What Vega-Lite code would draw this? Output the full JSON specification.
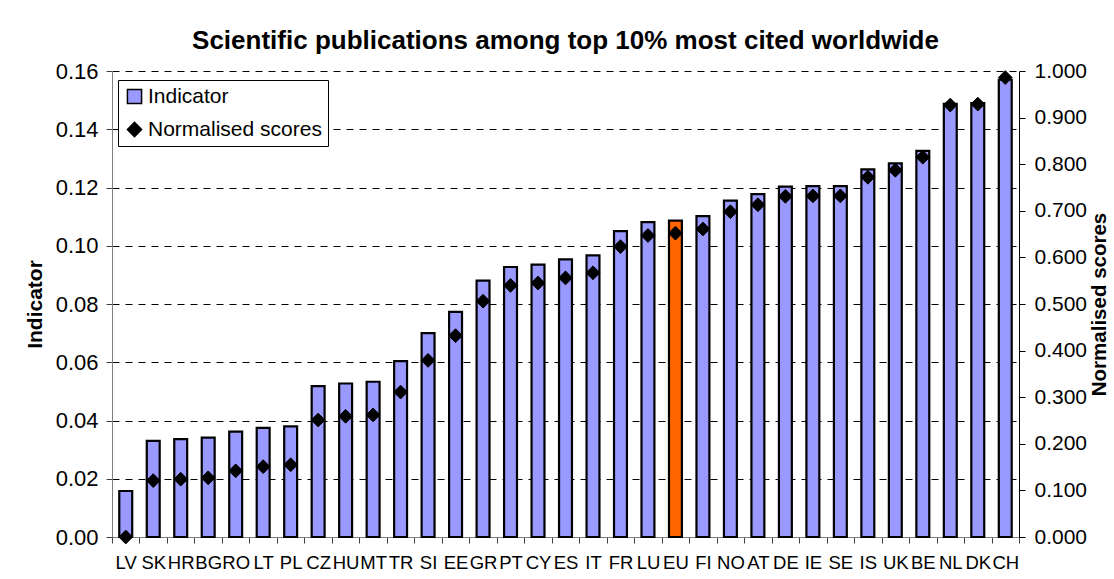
{
  "$schema": "https://vega.github.io/schema/vega-lite/v6.json",
  "width": 907,
  "height": 466,
  "autosize": {"type": "none"},
  "padding": {"left": 112, "top": 71, "right": 95, "bottom": 42},
  "background": "white",
  "title": {
    "text": "Scientific publications among top 10% most cited worldwide",
    "fontSize": 26,
    "fontWeight": "bold",
    "font": "Liberation Sans",
    "color": "black",
    "offset": 6,
    "anchor": "middle"
  },
  "data": {
    "values": [
      {"country": "LV", "indicator": 0.0158, "score": 0.000},
      {"country": "SK", "indicator": 0.0330, "score": 0.121},
      {"country": "HR", "indicator": 0.0336, "score": 0.124},
      {"country": "BG", "indicator": 0.0341, "score": 0.127},
      {"country": "RO", "indicator": 0.0362, "score": 0.142},
      {"country": "LT", "indicator": 0.0375, "score": 0.151},
      {"country": "PL", "indicator": 0.0380, "score": 0.155},
      {"country": "CZ", "indicator": 0.0518, "score": 0.251},
      {"country": "HU", "indicator": 0.0527, "score": 0.259},
      {"country": "MT", "indicator": 0.0533, "score": 0.262},
      {"country": "TR", "indicator": 0.0604, "score": 0.311},
      {"country": "SI", "indicator": 0.0700, "score": 0.379},
      {"country": "EE", "indicator": 0.0773, "score": 0.432},
      {"country": "GR", "indicator": 0.0880, "score": 0.506},
      {"country": "PT", "indicator": 0.0927, "score": 0.540},
      {"country": "CY", "indicator": 0.0935, "score": 0.545},
      {"country": "ES", "indicator": 0.0953, "score": 0.556},
      {"country": "IT", "indicator": 0.0967, "score": 0.567},
      {"country": "FR", "indicator": 0.1050, "score": 0.623},
      {"country": "LU", "indicator": 0.1081, "score": 0.647},
      {"country": "EU", "indicator": 0.1086, "score": 0.652},
      {"country": "FI", "indicator": 0.1102, "score": 0.661},
      {"country": "NO", "indicator": 0.1155, "score": 0.698},
      {"country": "AT", "indicator": 0.1177, "score": 0.713},
      {"country": "DE", "indicator": 0.1203, "score": 0.731},
      {"country": "IE", "indicator": 0.1205, "score": 0.732},
      {"country": "SE", "indicator": 0.1205, "score": 0.732},
      {"country": "IS", "indicator": 0.1262, "score": 0.772},
      {"country": "UK", "indicator": 0.1283, "score": 0.787},
      {"country": "BE", "indicator": 0.1326, "score": 0.815},
      {"country": "NL", "indicator": 0.1487, "score": 0.927},
      {"country": "DK", "indicator": 0.1490, "score": 0.929},
      {"country": "CH", "indicator": 0.1570, "score": 0.986}
    ]
  },
  "encoding": {
    "x": {
      "field": "country",
      "type": "nominal",
      "sort": null,
      "scale": {"paddingInner": 0, "paddingOuter": 0},
      "axis": {
        "title": null,
        "labelAngle": 0,
        "tickBand": "extent",
        "labelOverlap": false,
        "labelFontSize": 18.5,
        "labelPadding": 10,
        "tickSize": 6,
        "domainColor": "#808080",
        "tickColor": "#404040",
        "labelColor": "black",
        "grid": false
      }
    }
  },
  "layer": [
    {
      "mark": {"type": "bar", "width": {"band": 0.47}, "stroke": "black", "strokeWidth": 2.2},
      "encoding": {
        "y": {
          "field": "indicator",
          "type": "quantitative",
          "scale": {"domain": [0, 0.16], "nice": false, "zero": true},
          "axis": {
            "title": "Indicator",
            "values": [0, 0.02, 0.04, 0.06, 0.08, 0.1, 0.12, 0.14, 0.16],
            "format": ".2f",
            "grid": true,
            "gridDash": [7, 6],
            "gridColor": "black",
            "gridWidth": 1,
            "gridOpacity": 1,
            "labelFontSize": 22,
            "labelPadding": 8,
            "tickSize": 6,
            "tickColor": "#404040",
            "domainColor": "#808080",
            "labelColor": "black",
            "titleFontSize": 21,
            "titleFontWeight": "bold",
            "titleColor": "black",
            "titlePadding": 10
          }
        },
        "fill": {
          "condition": {"test": "datum.country === 'EU'", "value": "#ff6600"},
          "value": "#9999ff"
        }
      }
    },
    {
      "mark": {"type": "point", "filled": true, "size": 190, "stroke": "black", "strokeWidth": 1, "opacity": 1},
      "encoding": {
        "y": {
          "field": "score",
          "type": "quantitative",
          "scale": {"domain": [0, 1], "nice": false},
          "axis": {
            "orient": "right",
            "title": "Normalised scores",
            "values": [0, 0.1, 0.2, 0.3, 0.4, 0.5, 0.6, 0.7, 0.8, 0.9, 1.0],
            "format": ".3f",
            "grid": false,
            "labelFontSize": 21,
            "labelPadding": 9,
            "tickSize": 6,
            "tickColor": "black",
            "domainColor": "black",
            "labelColor": "black",
            "titleFontSize": 20.5,
            "titleFontWeight": "bold",
            "titleColor": "black",
            "titleAngle": 270,
            "titleBaseline": "top",
            "titlePadding": 3
          }
        },
        "fill": {
          "datum": "Normalised scores",
          "type": "nominal",
          "scale": {"domain": ["Indicator", "Normalised scores"], "range": ["#9999ff", "#000000"]},
          "legend": {
            "orient": "none", "legendX": 6, "legendY": 9, "title": null,
            "labelFontSize": 21, "labelColor": "black", "labelLimit": 400, "symbolSize": 200,
            "strokeColor": "black", "fillColor": "white", "padding": 6, "rowPadding": 11,
            "labelOffset": 3,
            "encode": {"symbols": {"update": {"stroke": {"value": "black"}, "strokeWidth": {"value": 2}}}}
          }
        },
        "shape": {
          "datum": "Normalised scores",
          "type": "nominal",
          "scale": {"domain": ["Indicator", "Normalised scores"], "range": ["square", "diamond"]},
          "legend": {
            "orient": "none", "legendX": 6, "legendY": 9, "title": null,
            "labelFontSize": 21, "labelColor": "black", "labelLimit": 400, "symbolSize": 200,
            "strokeColor": "black", "fillColor": "white", "padding": 6, "rowPadding": 11,
            "labelOffset": 3,
            "encode": {"symbols": {"update": {"stroke": {"value": "black"}, "strokeWidth": {"value": 2}}}}
          }
        }
      }
    }
  ],
  "resolve": {"scale": {"y": "independent"}},
  "config": {
    "font": "Liberation Sans",
    "view": {"stroke": null},
    "axis": {"labelFont": "Liberation Sans", "titleFont": "Liberation Sans"},
    "legend": {"labelFont": "Liberation Sans"}
  }
}
